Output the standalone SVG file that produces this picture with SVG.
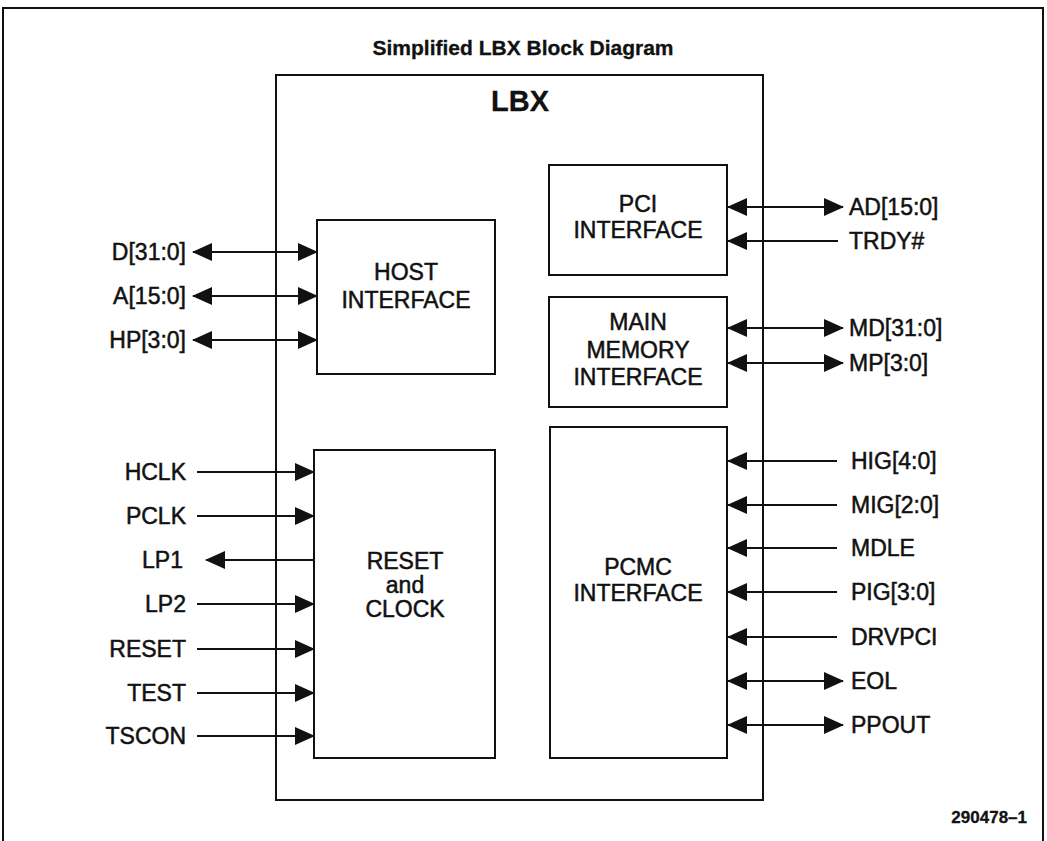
<svg xmlns="http://www.w3.org/2000/svg" width="1047" height="841" viewBox="0 0 1047 841">
<style>
  .frame{fill:none;stroke:#111;stroke-width:2}
  .box{fill:#fff;stroke:#111;stroke-width:2}
  .lbl{font-family:"Liberation Sans",Arial,sans-serif;font-size:23px;fill:#111;stroke:#111;stroke-width:0.5}
  .ctr{text-anchor:middle}
  .end{text-anchor:end}
  .bold{font-weight:bold;stroke-width:0.3}
  .wire{stroke:#111;stroke-width:2;fill:none}
</style>
<defs>
  <marker id="ah" viewBox="0 0 20 18" refX="19" refY="9" markerWidth="20" markerHeight="18" markerUnits="userSpaceOnUse" orient="auto-start-reverse">
    <path d="M0,0 L20,9 L0,18 z" fill="#111"/>
  </marker>
</defs>
<rect width="1047" height="841" fill="#fff"/>
<path class="frame" d="M3,841 V8 H1043 V841"/>
<text class="lbl ctr bold" x="523" y="55" style="font-size:21px">Simplified LBX Block Diagram</text>
<text class="lbl end bold" x="1027" y="823" style="font-size:17px">290478–1</text>

<g id="lbx">
  <rect class="box" x="276" y="75" width="487" height="725"/>
  <text class="lbl ctr bold" x="520" y="111" style="font-size:29px">LBX</text>
</g>
<g id="host">
  <rect class="box" x="317" y="220" width="178" height="154"/>
  <text class="lbl ctr" x="406" y="280">HOST</text>
  <text class="lbl ctr" x="406" y="308">INTERFACE</text>
</g>
<g id="pci">
  <rect class="box" x="549" y="165" width="178" height="110"/>
  <text class="lbl ctr" x="638" y="212">PCI</text>
  <text class="lbl ctr" x="638" y="238">INTERFACE</text>
</g>
<g id="mem">
  <rect class="box" x="549" y="297" width="178" height="110"/>
  <text class="lbl ctr" x="638" y="330">MAIN</text>
  <text class="lbl ctr" x="638" y="358">MEMORY</text>
  <text class="lbl ctr" x="638" y="385">INTERFACE</text>
</g>
<g id="reset">
  <rect class="box" x="314" y="450" width="181" height="308"/>
  <text class="lbl ctr" x="405" y="569">RESET</text>
  <text class="lbl ctr" x="405" y="593">and</text>
  <text class="lbl ctr" x="405" y="617">CLOCK</text>
</g>
<g id="pcmc">
  <rect class="box" x="550" y="427" width="177" height="331"/>
  <text class="lbl ctr" x="638" y="575">PCMC</text>
  <text class="lbl ctr" x="638" y="601">INTERFACE</text>
</g>

<g id="connectors">
  <line class="wire" x1="193" y1="252" x2="317" y2="252" marker-start="url(#ah)" marker-end="url(#ah)"/>
  <line class="wire" x1="193" y1="296" x2="317" y2="296" marker-start="url(#ah)" marker-end="url(#ah)"/>
  <line class="wire" x1="193" y1="340" x2="317" y2="340" marker-start="url(#ah)" marker-end="url(#ah)"/>
  <line class="wire" x1="197" y1="472" x2="314" y2="472" marker-end="url(#ah)"/>
  <line class="wire" x1="197" y1="516" x2="314" y2="516" marker-end="url(#ah)"/>
  <line class="wire" x1="314" y1="560" x2="206" y2="560" marker-end="url(#ah)"/>
  <line class="wire" x1="197" y1="604" x2="314" y2="604" marker-end="url(#ah)"/>
  <line class="wire" x1="197" y1="649" x2="314" y2="649" marker-end="url(#ah)"/>
  <line class="wire" x1="197" y1="693" x2="314" y2="693" marker-end="url(#ah)"/>
  <line class="wire" x1="197" y1="736" x2="314" y2="736" marker-end="url(#ah)"/>
  <line class="wire" x1="728" y1="207" x2="843" y2="207" marker-start="url(#ah)" marker-end="url(#ah)"/>
  <line class="wire" x1="838" y1="241" x2="728" y2="241" marker-end="url(#ah)"/>
  <line class="wire" x1="728" y1="328" x2="843" y2="328" marker-start="url(#ah)" marker-end="url(#ah)"/>
  <line class="wire" x1="728" y1="363" x2="843" y2="363" marker-start="url(#ah)" marker-end="url(#ah)"/>
  <line class="wire" x1="837" y1="461" x2="728" y2="461" marker-end="url(#ah)"/>
  <line class="wire" x1="837" y1="505" x2="728" y2="505" marker-end="url(#ah)"/>
  <line class="wire" x1="837" y1="548" x2="728" y2="548" marker-end="url(#ah)"/>
  <line class="wire" x1="837" y1="592" x2="728" y2="592" marker-end="url(#ah)"/>
  <line class="wire" x1="837" y1="637" x2="728" y2="637" marker-end="url(#ah)"/>
  <line class="wire" x1="728" y1="681" x2="843" y2="681" marker-start="url(#ah)" marker-end="url(#ah)"/>
  <line class="wire" x1="728" y1="725" x2="843" y2="725" marker-start="url(#ah)" marker-end="url(#ah)"/>
</g>

<g id="labels">
  <text class="lbl end" x="186" y="260">D[31:0]</text>
  <text class="lbl end" x="186" y="304">A[15:0]</text>
  <text class="lbl end" x="186" y="348">HP[3:0]</text>
  <text class="lbl end" x="186" y="480">HCLK</text>
  <text class="lbl end" x="186" y="524">PCLK</text>
  <text class="lbl end" x="183" y="568">LP1</text>
  <text class="lbl end" x="186" y="612">LP2</text>
  <text class="lbl end" x="186" y="657">RESET</text>
  <text class="lbl end" x="186" y="701">TEST</text>
  <text class="lbl end" x="186" y="744">TSCON</text>
  <text class="lbl" x="849" y="215">AD[15:0]</text>
  <text class="lbl" x="849" y="249">TRDY#</text>
  <text class="lbl" x="849" y="336">MD[31:0]</text>
  <text class="lbl" x="849" y="371">MP[3:0]</text>
  <text class="lbl" x="851" y="469">HIG[4:0]</text>
  <text class="lbl" x="851" y="513">MIG[2:0]</text>
  <text class="lbl" x="851" y="556">MDLE</text>
  <text class="lbl" x="851" y="600">PIG[3:0]</text>
  <text class="lbl" x="851" y="645">DRVPCI</text>
  <text class="lbl" x="851" y="689">EOL</text>
  <text class="lbl" x="851" y="733">PPOUT</text>
</g>
</svg>
